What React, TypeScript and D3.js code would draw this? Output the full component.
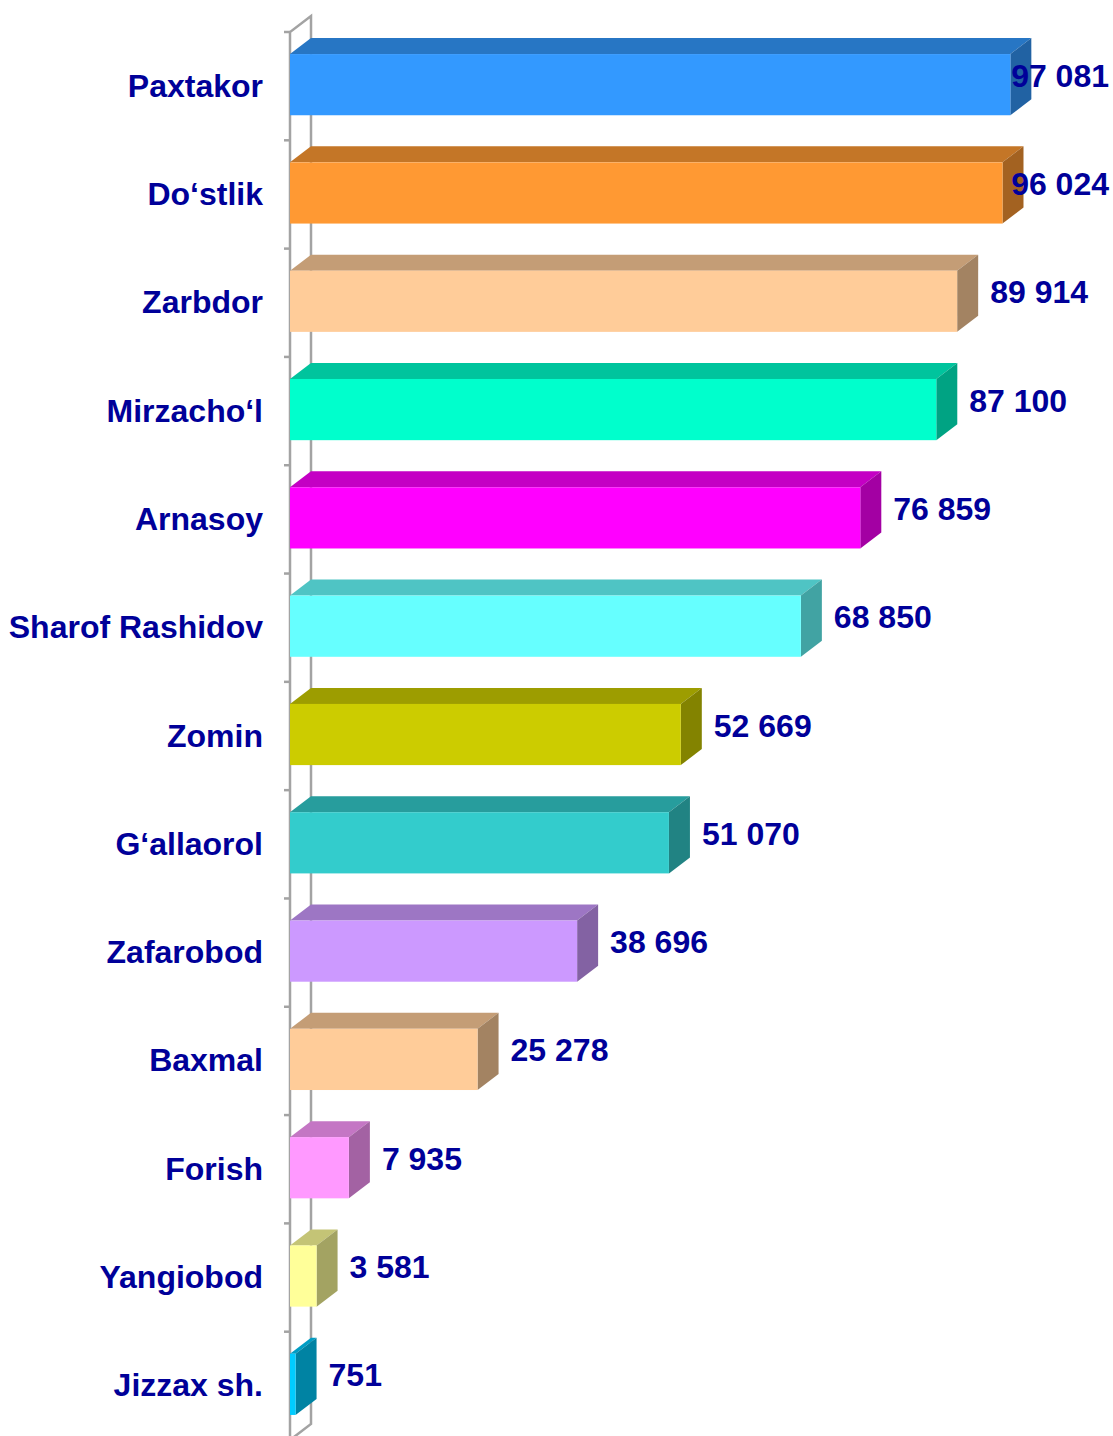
import React from "react";
import * as d3 from "d3";

const categories = [
  "Paxtakor",
  "Do‘stlik",
  "Zarbdor",
  "Mirzacho‘l",
  "Arnasoy",
  "Sharof Rashidov",
  "Zomin",
  "G‘allaorol",
  "Zafarobod",
  "Baxmal",
  "Forish",
  "Yangiobod",
  "Jizzax sh.",
];
const values = [97081, 96024, 89914, 87100, 76859, 68850, 52669, 51070, 38696, 25278, 7935, 3581, 751];
const barColors = [
  "#3399FF", "#FF9933", "#FFCC99", "#00FFCC", "#FF00FF", "#66FFFF", "#CCCC00",
  "#33CCCC", "#CC99FF", "#FFCC99", "#FF99FF", "#FFFF99", "#00CCFF",
];

const width = 1113;
const height = 1436;
const dx = 21; // depth of the 3d boxes
const dy = -16;
const labelColor = "#000099";
const font = "'Liberation Sans', Arial, sans-serif";
const fs = 32;

const fmt = d3.formatLocale({ decimal: ",", thousands: " ", grouping: [3], currency: ["", ""] }).format(",d");

function shade(c: string, f: number) {
  const r = d3.rgb(c);
  return d3.rgb(r.r * f, r.g * f, r.b * f).formatHex();
}

export default function App() {
  const x = d3.scaleLinear().domain([0, 100000]).range([290, 1032]);
  const y = d3
    .scaleBand<string>()
    .domain(categories)
    .range([32, 1440])
    .paddingInner(0.435)
    .paddingOuter(0.2175);
  const step = y.step();
  const bw = y.bandwidth();
  const x0 = x(0);
  const top = 32, bottom = 1440;

  return (
    <svg width={width} height={height} style={{ position: "absolute", left: 0, top: 0, background: "#fff" }}>
      {/* axis wall */}
      <g stroke="#a3a3a3" strokeWidth={2.5} fill="none">
        <path d={`M${x0},${bottom} L${x0},${top} L${x0 + dx},${top + dy} L${x0 + dx},${bottom + dy} L${x0},${bottom}`} />
        {d3.range(categories.length + 1).map((i) => (
          <line key={i} x1={x0 - 6} x2={x0} y1={top + i * step} y2={top + i * step} />
        ))}
      </g>

      {categories.map((c, i) => {
        const v = values[i];
        const y0 = y(c)! - 1.5;
        const x1 = x(v);
        const col = barColors[i];
        const fy = y0 + bw / 2;
        const txt = fmt(v);
        const tw = txt.replace(/ /g, "").length * 0.556 * fs + (txt.split(" ").length - 1) * 0.278 * fs;
        let tx = x1 + dx + 12;
        let anchor = "start";
        if (tx + tw > 1110) {
          tx = 1109;
          anchor = "end";
        }
        return (
          <g key={c}>
            <path
              d={`M${x0},${y0} L${x0 + dx},${y0 + dy} L${x1 + dx},${y0 + dy} L${x1},${y0} Z`}
              fill={shade(col, 0.77)}
            />
            <path
              d={`M${x1},${y0} L${x1 + dx},${y0 + dy} L${x1 + dx},${y0 + dy + bw} L${x1},${y0 + bw} Z`}
              fill={shade(col, 0.64)}
            />
            <rect x={x0} y={y0} width={x1 - x0} height={bw} fill={col} />
            <text
              x={263}
              y={fy + 12}
              textAnchor="end"
              fontFamily={font}
              fontWeight="bold"
              fontSize={fs}
              fill={labelColor}
            >
              {c}
            </text>
            <text
              x={tx}
              y={fy + dy / 2 + 10}
              textAnchor={anchor}
              fontFamily={font}
              fontWeight="bold"
              fontSize={fs}
              fill={labelColor}
            >
              {txt}
            </text>
          </g>
        );
      })}
    </svg>
  );
}
